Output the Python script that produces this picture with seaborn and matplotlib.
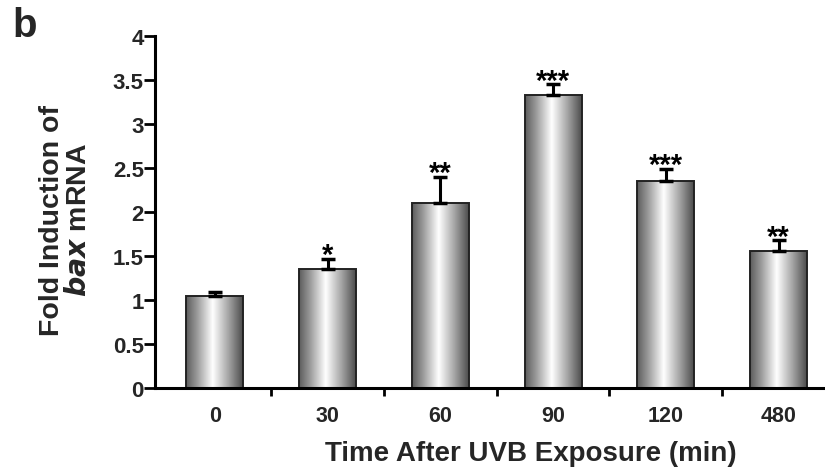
import numpy as np
import pandas as pd
import matplotlib
matplotlib.use("Agg")
import matplotlib.pyplot as plt
import seaborn as sns
from matplotlib.colors import LinearSegmentedColormap
from matplotlib.ticker import FuncFormatter

# ---- data ----
times = ["0", "30", "60", "90", "120", "480"]
fold_induction = [1.04, 1.35, 2.10, 3.33, 2.35, 1.56]
sem = [0.05, 0.12, 0.30, 0.12, 0.14, 0.12]
stars = ["", "*", "**", "***", "***", "**"]
yticks = [0, 0.5, 1, 1.5, 2, 2.5, 3, 3.5, 4]

df = pd.DataFrame({"time": times, "fold": fold_induction})

sns.set_theme(style="white")
plt.rcParams["font.family"] = ["Liberation Sans", "DejaVu Sans"]
plt.rcParams["font.weight"] = "bold"

fig = plt.figure(figsize=(8.25, 4.77), dpi=100)
ax = fig.add_axes([155 / 825, 88 / 477, 680 / 825, 352 / 477])

sns.barplot(data=df, x="time", y="fold", order=times, color="white",
            width=0.505, edgecolor="#222222", linewidth=1.4, ax=ax, errorbar=None)

# cylinder-like gradient fill clipped to each bar
grad_cmap = LinearSegmentedColormap.from_list(
    "cyl", [(0.0, "#5c5c5c"), (0.2, "#9c9c9c"), (0.47, "#ffffff"),
            (0.75, "#a4a4a4"), (1.0, "#4c4c4c")])
grad = np.linspace(0, 1, 256).reshape(1, -1)
for p in list(ax.patches):
    x0, y0 = p.get_x(), p.get_y()
    w, h = p.get_width(), p.get_height()
    im = ax.imshow(grad, cmap=grad_cmap, vmin=0, vmax=1, aspect="auto",
                   extent=[x0, x0 + w, y0, y0 + h], zorder=p.get_zorder() - 0.1,
                   interpolation="bilinear")
    im.set_clip_path(p)
    p.set_facecolor("none")

# error bars (upper only)
xpos = np.arange(len(times))
ax.errorbar(xpos, fold_induction, yerr=[np.zeros(len(sem)), sem], fmt="none",
            ecolor="black", elinewidth=2.2, capsize=4.7, capthick=2.5, zorder=1)

# significance stars
for xi, v, e, s in zip(xpos, fold_induction, sem, stars):
    if s:
        ax.text(xi, v + e - 0.05, s, ha="center", va="baseline",
                fontsize=21, fontweight="bold", color="black")

ax.set_xlim(-0.53, 5.5)
ax.set_ylim(0, 4)
ax.set_yticks(yticks)
ax.yaxis.set_major_formatter(FuncFormatter(lambda v, _: f"{v:g}"))
ax.set_xticks(xpos)
ax.set_xticklabels(times)
ax.set_xticks(np.arange(0.5, 5.0, 1.0), minor=True)

for side in ["top", "right"]:
    ax.spines[side].set_visible(False)
for side in ["left", "bottom"]:
    ax.spines[side].set_color("black")
    ax.spines[side].set_linewidth(2.2)

ax.tick_params(axis="y", which="major", direction="out", length=8, width=2,
               color="black", labelsize=16, pad=0, left=True)
ax.tick_params(axis="x", which="major", length=0, labelsize=15.5, pad=12)
ax.tick_params(axis="x", which="minor", direction="out", length=6, width=2,
               color="black", bottom=True)
for lab in ax.get_xticklabels() + ax.get_yticklabels():
    lab.set_fontweight("bold")

ax.set_xlabel("Time After UVB Exposure (min)", fontsize=20, fontweight="bold")
ax.xaxis.set_label_coords((531 - 155) / 680, -0.148)
ax.set_ylabel("Fold Induction of\n$\\mathbfit{bax}$ mRNA", fontsize=20.5,
              fontweight="bold", linespacing=1.02)
ax.yaxis.set_label_coords(-0.093, 0.48)

fig.text(25 / 825, 1 - 26 / 477, "b", fontsize=29, fontweight="bold",
         ha="center", va="center")

fig.savefig("out.png", dpi=100, facecolor="white")
